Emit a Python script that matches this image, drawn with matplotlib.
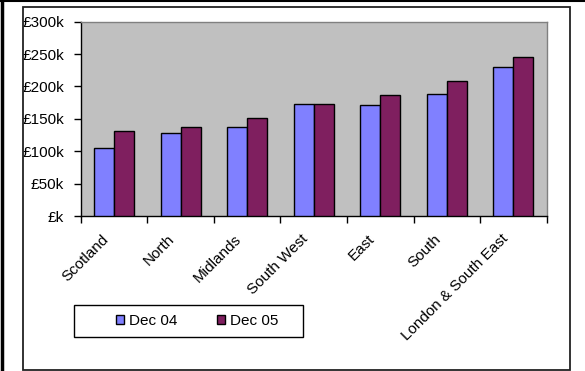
import matplotlib
matplotlib.use("Agg")
import matplotlib.pyplot as plt
import numpy as np
from matplotlib.patches import Rectangle
from matplotlib.lines import Line2D
from matplotlib.transforms import ScaledTranslation

categories = ["Scotland", "North", "Midlands", "South West", "East", "South",
              "London & South East"]
dec04 = [105.5, 128, 137.5, 173.5, 171.5, 189, 230]
dec05 = [131, 137.5, 151.5, 173.5, 187, 208, 245.5]
series_names = ["Dec 04", "Dec 05"]
yticks = [0, 50, 100, 150, 200, 250, 300]
ytick_labels = ["£k", "£50k", "£100k", "£150k", "£200k", "£250k", "£300k"]

plt.rcParams['font.family'] = ['Liberation Sans', 'DejaVu Sans']
FS = 11

W, H = 585, 371
fig = plt.figure(figsize=(W / 100, H / 100), dpi=100)

def px_rect(x0, y0, x1, y1):
    return [x0 / W, 1 - y1 / H, (x1 - x0) / W, (y1 - y0) / H]

ax = fig.add_axes(px_rect(80.7, 21.7, 546.7, 216))
ax.set_facecolor("#C0C0C0")

x = np.arange(len(categories)) + 0.5
bw = 0.3
c04, c05 = "#8080FF", "#7F1F5F"
ax.bar(x - bw / 2, dec04, bw, color=c04, edgecolor="black", linewidth=1.0,
       label=series_names[0], zorder=3)
ax.bar(x + bw / 2, dec05, bw, color=c05, edgecolor="black", linewidth=1.0,
       label=series_names[1], zorder=3)

ax.set_xlim(0, len(categories))
ax.set_ylim(0, 300)
ax.set_yticks(yticks)
ax.set_yticklabels(ytick_labels, fontsize=FS)
ax.tick_params(axis="y", direction="out", length=5, width=1, pad=7)

ax.set_xticks(np.arange(len(categories) + 1))
ax.set_xticklabels([])
ax.tick_params(axis="x", which="major", direction="out", length=5, width=1)
ax.set_xticks(x, minor=True)
ax.set_xticklabels(categories, minor=True, rotation=45, ha="right",
                   fontsize=FS)
ax.tick_params(axis="x", which="minor", length=0, pad=11.5)
off = ScaledTranslation(-3 / 100, 0, fig.dpi_scale_trans)
for lab in ax.get_xticklabels(minor=True):
    lab.set_transform(lab.get_transform() + off)

for s in ["left", "bottom"]:
    ax.spines[s].set_color("black")
    ax.spines[s].set_linewidth(1)
for s in ["top", "right"]:
    ax.spines[s].set_color("#808080")
    ax.spines[s].set_linewidth(1)

# legend frame and entries
lx0, ly0, lx1, ly1 = 74, 305, 303, 337
fig.patches.append(Rectangle((lx0 / W, 1 - ly1 / H), (lx1 - lx0) / W, (ly1 - ly0) / H,
                             transform=fig.transFigure, facecolor="white",
                             edgecolor="black", linewidth=1, zorder=1))
leg = fig.legend(loc="center left", ncol=2, fontsize=FS, frameon=False,
                 bbox_to_anchor=(116 / W, 1 - (ly0 + ly1) / 2 / H),
                 borderaxespad=0, borderpad=0,
                 handlelength=0.55, handleheight=0.55, handletextpad=0.3,
                 columnspacing=2.6)
leg.set_zorder(2)

# chart area border
fig.patches.append(Rectangle((23 / W, 1 - 370 / H), (570 - 23) / W, (370 - 7) / H,
                             transform=fig.transFigure, fill=False,
                             edgecolor="#222222", linewidth=1.3))
# outer frame (top and left)
fig.lines.append(Line2D([0, 1], [1 - 0.5 / H, 1 - 0.5 / H],
                        transform=fig.transFigure, color="black", linewidth=1.5))
fig.lines.append(Line2D([1.5 / W, 1.5 / W], [0, 1],
                        transform=fig.transFigure, color="black", linewidth=2.5))

fig.savefig("out.png", dpi=100)
